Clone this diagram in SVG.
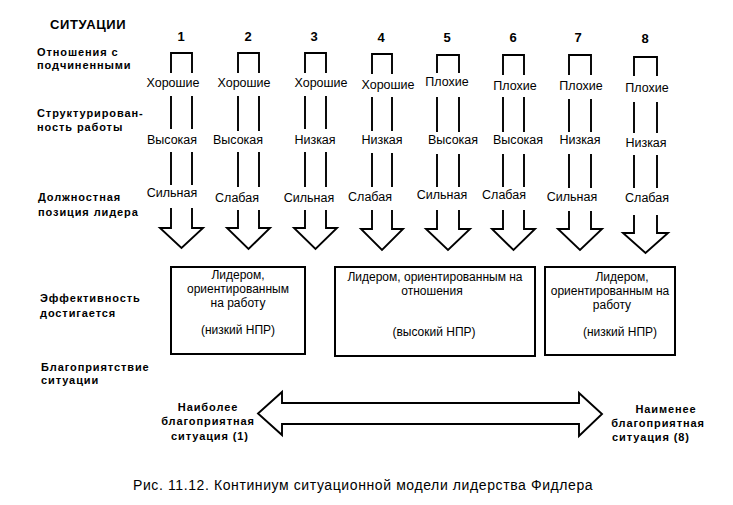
<svg xmlns="http://www.w3.org/2000/svg" width="733" height="505" viewBox="0 0 733 505">
<style>
text{font-family:"Liberation Sans",Arial,sans-serif;fill:#000}
.hd{font-weight:bold;font-size:11px;letter-spacing:0.9px}
.ttl{font-weight:bold;font-size:13px;letter-spacing:0.6px}
.num{font-weight:bold;font-size:13px;text-anchor:middle}
.lb{font-size:12.5px;text-anchor:middle}
.bx{font-size:12px;text-anchor:middle}
.ln{fill:none;stroke:#000;stroke-width:1.9}
.box{fill:#fff;stroke:#000;stroke-width:2}
.cap{font-size:14px;letter-spacing:0.6px}
</style>
<rect width="733" height="505" fill="#fff"/>
<g id="row-labels">
<text class="ttl" x="50" y="29">СИТУАЦИИ</text>
<text class="hd" x="37" y="56">Отношения с</text>
<text class="hd" x="37" y="69">подчиненными</text>
<text class="hd" x="37" y="117">Структурирован-</text>
<text class="hd" x="37" y="131">ность работы</text>
<text class="hd" x="38" y="201">Должностная</text>
<text class="hd" x="38" y="216">позиция лидера</text>
<text class="hd" x="40" y="302">Эффективность</text>
<text class="hd" x="40" y="317">достигается</text>
<text class="hd" x="41" y="371">Благоприятствие</text>
<text class="hd" x="41" y="384">ситуации</text>
</g>
<g id="col1">
<text class="num" x="181" y="41">1</text>
<path class="ln" d="M171,73V53H192V73M171,96V129M192,96V129M171,152V185M192,152V185M171,208V228H160L181.5,248L203,228H192V208"/>
<text class="lb" x="173" y="87">Хорошие</text>
<text class="lb" x="172" y="144">Высокая</text>
<text class="lb" x="172" y="197">Сильная</text>
</g>
<g id="col2">
<text class="num" x="248" y="41">2</text>
<path class="ln" d="M238,73V53H259V73M238,96V131M259,96V131M238,152V187M259,152V187M238,210V228H227L248.5,249L270,228H259V210"/>
<text class="lb" x="244" y="87">Хорошие</text>
<text class="lb" x="238" y="144">Высокая</text>
<text class="lb" x="237" y="202">Слабая</text>
</g>
<g id="col3">
<text class="num" x="314" y="41">3</text>
<path class="ln" d="M305,73V53H326V73M305,96V129M326,96V129M305,152V187M326,152V187M305,210V228H294L315.5,249L337,228H326V210"/>
<text class="lb" x="321" y="87">Хорошие</text>
<text class="lb" x="315" y="144">Низкая</text>
<text class="lb" x="309" y="202">Сильная</text>
</g>
<g id="col4">
<text class="num" x="381" y="42">4</text>
<path class="ln" d="M372,74V54H392V74M372,97V131M392,97V131M372,153V187M392,153V187M372,210V229H361L382,250L403,229H392V210"/>
<text class="lb" x="388" y="89">Хорошие</text>
<text class="lb" x="382" y="144">Низкая</text>
<text class="lb" x="370" y="201">Слабая</text>
</g>
<g id="col5">
<text class="num" x="447" y="42">5</text>
<path class="ln" d="M437,73V55H459V73M437,97V132M459,97V132M437,154V187M459,154V187M437,210V229H426L448,250L470,229H459V210"/>
<text class="lb" x="447" y="86">Плохие</text>
<text class="lb" x="453" y="144">Высокая</text>
<text class="lb" x="442" y="199">Сильная</text>
</g>
<g id="col6">
<text class="num" x="513" y="42">6</text>
<path class="ln" d="M503,75V55H524V75M503,97V132M524,97V132M503,154V187M524,154V187M503,210V229H492L513.5,250L535,229H524V210"/>
<text class="lb" x="515" y="90">Плохие</text>
<text class="lb" x="518" y="144">Высокая</text>
<text class="lb" x="504" y="199">Слабая</text>
</g>
<g id="col7">
<text class="num" x="578" y="42">7</text>
<path class="ln" d="M569,75V55H591V75M569,99V132M591,99V132M569,154V188M591,154V188M569,211V229H558L580,250L602,229H591V211"/>
<text class="lb" x="581" y="90">Плохие</text>
<text class="lb" x="580" y="144">Низкая</text>
<text class="lb" x="572" y="201">Сильная</text>
</g>
<g id="col8">
<text class="num" x="645" y="43">8</text>
<path class="ln" d="M634,76V57H657V76M634,102V133M657,102V133M634,155V188M657,155V188M634,215V233H623L645.5,253L668,233H657V215"/>
<text class="lb" x="647" y="92">Плохие</text>
<text class="lb" x="646" y="147">Низкая</text>
<text class="lb" x="647" y="202">Слабая</text>
</g>
<g id="box1">
<rect class="box" x="171" y="267" width="134" height="87"/>
<text class="bx" x="238" y="279">Лидером,</text>
<text class="bx" x="238" y="293">ориентированным</text>
<text class="bx" x="238" y="307">на работу</text>
<text class="bx" x="238" y="334">(низкий НПР)</text>
</g>
<g id="box2">
<rect class="box" x="335" y="267" width="200" height="89"/>
<text class="bx" x="435" y="281">Лидером, ориентированным на</text>
<text class="bx" x="432" y="295">отношения</text>
<text class="bx" x="434" y="336">(высокий НПР)</text>
</g>
<g id="box3">
<rect class="box" x="545" y="267" width="130" height="88"/>
<text class="bx" x="622" y="281">Лидером,</text>
<text class="bx" x="610" y="295">ориентированным на</text>
<text class="bx" x="612" y="309">работу</text>
<text class="bx" x="620" y="336">(низкий НПР)</text>
</g>
<g id="connectors">
<path class="ln" d="M282,403V392L258,413.5L282,435V424H579V436L602,414L579,393V403Z"/>
</g>
<g id="end-labels">
<text class="hd" x="208" y="411" text-anchor="middle">Наиболее</text>
<text class="hd" x="208" y="425" text-anchor="middle">благоприятная</text>
<text class="hd" x="210" y="440" text-anchor="middle">ситуация (1)</text>
<text class="hd" x="666" y="413" text-anchor="middle">Наименее</text>
<text class="hd" x="658" y="427" text-anchor="middle">благоприятная</text>
<text class="hd" x="651" y="441" text-anchor="middle">ситуация (8)</text>
</g>
<text class="cap" x="133" y="490">Рис. 11.12. Континиум ситуационной модели лидерства Фидлера</text>
</svg>
